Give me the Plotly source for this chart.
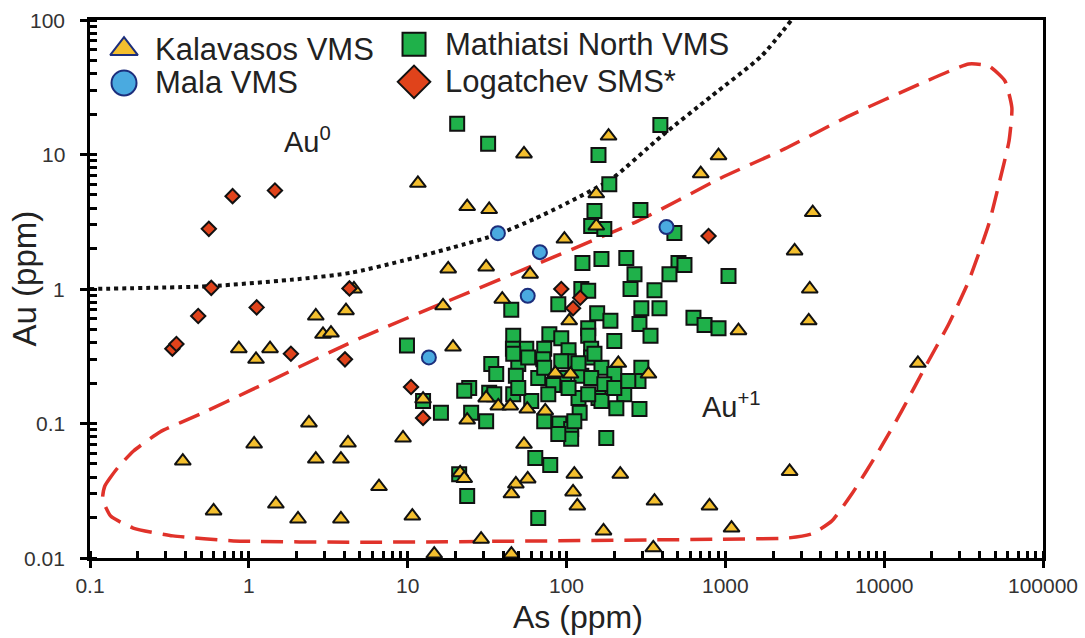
import math
import plotly.graph_objects as go

# ---------------- data ----------------
kal_x = [11.6, 54, 184, 23.7, 32.6, 700, 906, 154, 154,
         3550, 2730, 3400, 3350, 1210, 16300, 2540, 1094, 795,
         9.35, 6.6, 10.7, 14.7, 29, 45, 21.4, 22.7, 54, 48, 45, 57, 112, 110, 117, 218, 171, 358, 352,
         0.384, 1.08, 0.60, 1.48, 2.04, 3.8, 2.64, 3.8, 4.21, 2.39,
         2.64, 4.09, 2.93, 3.29, 0.865, 1.11, 1.36, 4.59,
         18, 31.2, 59, 97, 16.7, 39.4, 104, 19.3, 12.5, 31.2, 37.2, 44.2, 56.6, 73.5, 23.7, 85, 106, 212, 328]
kal_y = [6.1, 10.1, 13.7, 4.1, 3.9, 7.2, 9.8, 5.1, 2.94,
         3.7, 1.92, 1.0, 0.58, 0.49, 0.28, 0.044, 0.0167, 0.0244,
         0.078, 0.034, 0.0205, 0.0107, 0.0138, 0.0107, 0.043, 0.039, 0.070, 0.0355, 0.030, 0.0387, 0.042, 0.031, 0.0244, 0.042, 0.0159, 0.0265, 0.0119,
         0.0526, 0.0704, 0.0224, 0.0252, 0.0195, 0.0195, 0.0544, 0.0544, 0.0716, 0.101,
         0.63, 0.69, 0.46, 0.47, 0.36, 0.30, 0.36, 1.0,
         1.41, 1.46, 1.29, 2.35, 0.75, 0.84, 0.58, 0.37, 0.152, 0.155, 0.135, 0.135, 0.128, 0.124, 0.106, 0.237, 0.233, 0.28, 0.233]

mala_x = [37, 68, 57, 13.6, 426]
mala_y = [2.6, 1.88, 0.89, 0.31, 2.89]

mat_x = [20.5, 32.1, 390, 159, 186, 150, 292, 143, 173, 478, 126, 166, 238, 268, 253, 507, 553, 445, 358, 385,
         296, 288, 338, 124, 137, 88.8, 156, 189, 137, 44.9, 630, 740, 906, 1047, 9.9, 78, 46.2, 92.7, 137, 200,
         143, 55.8, 46, 72.4, 103, 33.6, 49.7, 71.4, 103, 143, 166, 36.1, 48, 66.4, 96.9, 124, 143, 200, 296, 284,
         24.4, 22.7, 32.6, 46.2, 82.6, 173, 231, 159, 119, 60, 25.1, 31.2, 16.2, 121, 90.1, 107, 178, 206, 288, 166,
         12.5, 21.1, 23.7, 63.6, 79, 66.4, 107, 88.8,
         46.2, 57.4, 92.7, 119, 150, 72.4, 49.7, 103, 137, 76.8, 200, 245, 72.4, 112, 35.1]
mat_y = [16.9, 12.0, 16.6, 9.9, 6.0, 3.8, 3.87, 2.94, 2.79, 2.61, 1.56, 1.67, 1.70, 1.29, 1.0, 1.56, 1.51, 1.29, 0.98, 0.72,
         0.72, 0.55, 0.45, 1.0, 0.97, 0.77, 0.66, 0.58, 0.51, 0.70, 0.61, 0.54, 0.51, 1.25, 0.38, 0.46, 0.45, 0.43, 0.45, 0.41,
         0.36, 0.36, 0.36, 0.36, 0.35, 0.277, 0.277, 0.30, 0.29, 0.31, 0.26, 0.233, 0.226, 0.218, 0.218, 0.226, 0.218, 0.233, 0.26, 0.207,
         0.184, 0.175, 0.169, 0.165, 0.193, 0.196, 0.165, 0.155, 0.155, 0.147, 0.12, 0.104, 0.12, 0.12, 0.10, 0.091, 0.078, 0.13, 0.128, 0.147,
         0.147, 0.042, 0.0289, 0.0554, 0.0491, 0.0198, 0.077, 0.0835,
         0.33, 0.31, 0.29, 0.28, 0.33, 0.26, 0.184, 0.184, 0.165, 0.165, 0.184, 0.207, 0.104, 0.104, 0.165]

log_x = [0.56, 0.79, 1.46, 0.58, 0.48, 1.12, 0.33, 0.35, 1.84, 4.03, 4.3, 10.5, 12.5, 92.7, 122, 110, 784]
log_y = [2.8, 4.9, 5.4, 1.02, 0.63, 0.73, 0.36, 0.39, 0.33, 0.30, 1.01, 0.187, 0.11, 1.0, 0.86, 0.72, 2.48]

# Au0 / Au+1 boundary (dotted)
bound_x = [0.1, 0.57, 2.13, 4.40, 9.09, 18.8, 37.2, 62.7, 92.7, 192, 396, 819, 1690, 2610]
bound_y = [1.0, 1.05, 1.19, 1.32, 1.61, 2.02, 2.56, 3.32, 4.14, 6.58, 13.7, 27.2, 54, 100]

# field outline (dashed, closed)
field_x = [0.120, 0.124, 0.149, 0.188, 0.276, 0.498, 1.03, 5.04, 281, 938, 2360, 5980, 17300, 34100, 45600,
           57600, 63700, 61100, 52800, 45600, 34100, 25500, 18000, 12900, 9250, 6250, 4670, 3500, 2500,
           938, 5.04, 0.80, 0.333, 0.187, 0.135, 0.120]
field_y = [0.0275, 0.0343, 0.0467, 0.0625, 0.0865, 0.118, 0.177, 0.432, 3.2, 6.69, 11.0, 19.3, 34.0, 47.1, 45.5,
           35.2, 22.2, 12.6, 6.04, 3.04, 1.15, 0.55, 0.259, 0.124, 0.0625, 0.0299, 0.0188, 0.0151, 0.0141,
           0.0138, 0.0131, 0.0134, 0.0146, 0.0167, 0.0205, 0.0275]

tick_vals_y = [0.01, 0.1, 1, 10, 100]
tick_text_y = ["0.01", "0.1", "1", "10", "100"]

series_names = ["Kalavasos VMS", "Mala VMS", "Mathiatsi North VMS", "Logatchev SMS*"]
x_title = "As (ppm)"
y_title = "Au (ppm)"

FONT = "Liberation Sans, Arial, sans-serif"
TXT = "#222222"
Y_RANGE = [-2, 2]

# ---------------- figure ----------------
fig = go.Figure()

fig.add_trace(go.Scatter(x=field_x, y=field_y, mode="lines", showlegend=False, hoverinfo="skip",
                         line=dict(color="#E0322A", width=3.5, dash="22px,11px", shape="spline", smoothing=0.5)))
fig.add_trace(go.Scatter(x=bound_x, y=bound_y, mode="lines", showlegend=False, hoverinfo="skip",
                         line=dict(color="#111111", width=4, dash="4px,4px", shape="spline", smoothing=0.6)))

edge = dict(color="#111111", width=2)
sty = {
    "Kalavasos VMS": dict(symbol="triangle-up", color="#F4BF2E", line=edge),
    "Mala VMS": dict(symbol="circle", color="#4AAAE0", line=dict(color="#1C2E7C", width=2)),
    "Mathiatsi North VMS": dict(symbol="square", color="#1FB14A", line=edge),
    "Logatchev SMS*": dict(symbol="diamond", color="#E0431B", line=edge),
}
fig.add_trace(go.Scatter(x=mat_x, y=mat_y, mode="markers", name=series_names[2], showlegend=False,
                         marker=dict(size=14, **sty[series_names[2]])))
fig.add_trace(go.Scatter(x=kal_x, y=kal_y, mode="markers", name=series_names[0], showlegend=False,
                         marker=dict(size=14, **sty[series_names[0]])))
fig.add_trace(go.Scatter(x=mala_x, y=mala_y, mode="markers", name=series_names[1], showlegend=False,
                         marker=dict(size=14, **sty[series_names[1]])))
fig.add_trace(go.Scatter(x=log_x, y=log_y, mode="markers", name=series_names[3], showlegend=False,
                         marker=dict(size=11, **sty[series_names[3]])))

# ---- legend (two columns, large keys) drawn on an overlay axis in plot fractions ----
leg_pos = {  # key centre (x, y) as fraction of plot area, text left x
    "Kalavasos VMS": (0.0357, 0.946, 0.0661),
    "Mala VMS": (0.0357, 0.883, 0.0661),
    "Mathiatsi North VMS": (0.340, 0.955, 0.3704),
    "Logatchev SMS*": (0.340, 0.885, 0.3704),
}
leg_size = {"Kalavasos VMS": 24, "Mala VMS": 25, "Mathiatsi North VMS": 23, "Logatchev SMS*": 25}
annotations = []
for nm in series_names:
    kx, ky, tx = leg_pos[nm]
    st = dict(sty[nm])
    if nm == "Kalavasos VMS":
        st["line"] = dict(color="#1C2E7C", width=2)
    fig.add_trace(go.Scatter(x=[kx], y=[ky], xaxis="x2", yaxis="y2", mode="markers", showlegend=False,
                             hoverinfo="skip", marker=dict(size=leg_size[nm], **st)))
    annotations.append(dict(text=nm, xref="paper", yref="paper", x=tx, y=ky, xanchor="left", yanchor="middle",
                            showarrow=False, font=dict(family=FONT, size=31, color=TXT)))

# y tick labels, placed at their decade positions
for v, t in zip(tick_vals_y, tick_text_y):
    frac = (math.log10(v) - Y_RANGE[0]) / (Y_RANGE[1] - Y_RANGE[0])
    annotations.append(dict(text=t, xref="paper", yref="paper", x=-0.024, y=frac, xanchor="right",
                            yanchor="middle", showarrow=False,
                            font=dict(family=FONT, size=21, color="#333333")))

annotations += [
    dict(text="Au<sup>0</sup>", xref="paper", yref="paper", x=0.2015, y=0.740, xanchor="left", yanchor="bottom",
         showarrow=False, font=dict(family=FONT, size=29, color=TXT)),
    dict(text="Au<sup>+1</sup>", xref="paper", yref="paper", x=0.640, y=0.247, xanchor="left", yanchor="bottom",
         showarrow=False, font=dict(family=FONT, size=29, color=TXT)),
    dict(text=x_title, xref="paper", yref="paper", x=0.512, y=-0.110, xanchor="center", yanchor="middle",
         showarrow=False, font=dict(family=FONT, size=32, color=TXT)),
    dict(text=y_title, xref="paper", yref="paper", x=-0.069, y=0.520, xanchor="center", yanchor="middle",
         textangle=-90, showarrow=False, font=dict(family=FONT, size=33, color=TXT)),
]

axis_common = dict(
    type="log", showgrid=False, zeroline=False, automargin=False,
    showline=True, linecolor="black", linewidth=3, mirror=True,
    ticks="outside", ticklen=7, tickwidth=3, tickcolor="black",
    tickmode="linear", tick0=0, dtick=1, exponentformat="none",
    tickfont=dict(family=FONT, size=21, color="#333333"),
    minor=dict(dtick="D1", ticks="inside", ticklen=7, tickwidth=2.5, tickcolor="black", showgrid=False),
)

fig.update_xaxes(range=[-1, 5], **axis_common)
fig.update_yaxes(range=Y_RANGE, showticklabels=False, **axis_common)

fig.update_layout(
    width=1085, height=638,
    separators=".",
    margin=dict(l=90, r=42, t=20, b=80, autoexpand=False),
    paper_bgcolor="white", plot_bgcolor="white",
    showlegend=False,
    xaxis2=dict(overlaying="x", range=[0, 1], visible=False, fixedrange=True, automargin=False),
    yaxis2=dict(overlaying="y", range=[0, 1], visible=False, fixedrange=True, automargin=False),
    annotations=annotations,
)

fig.write_html("out.html")
